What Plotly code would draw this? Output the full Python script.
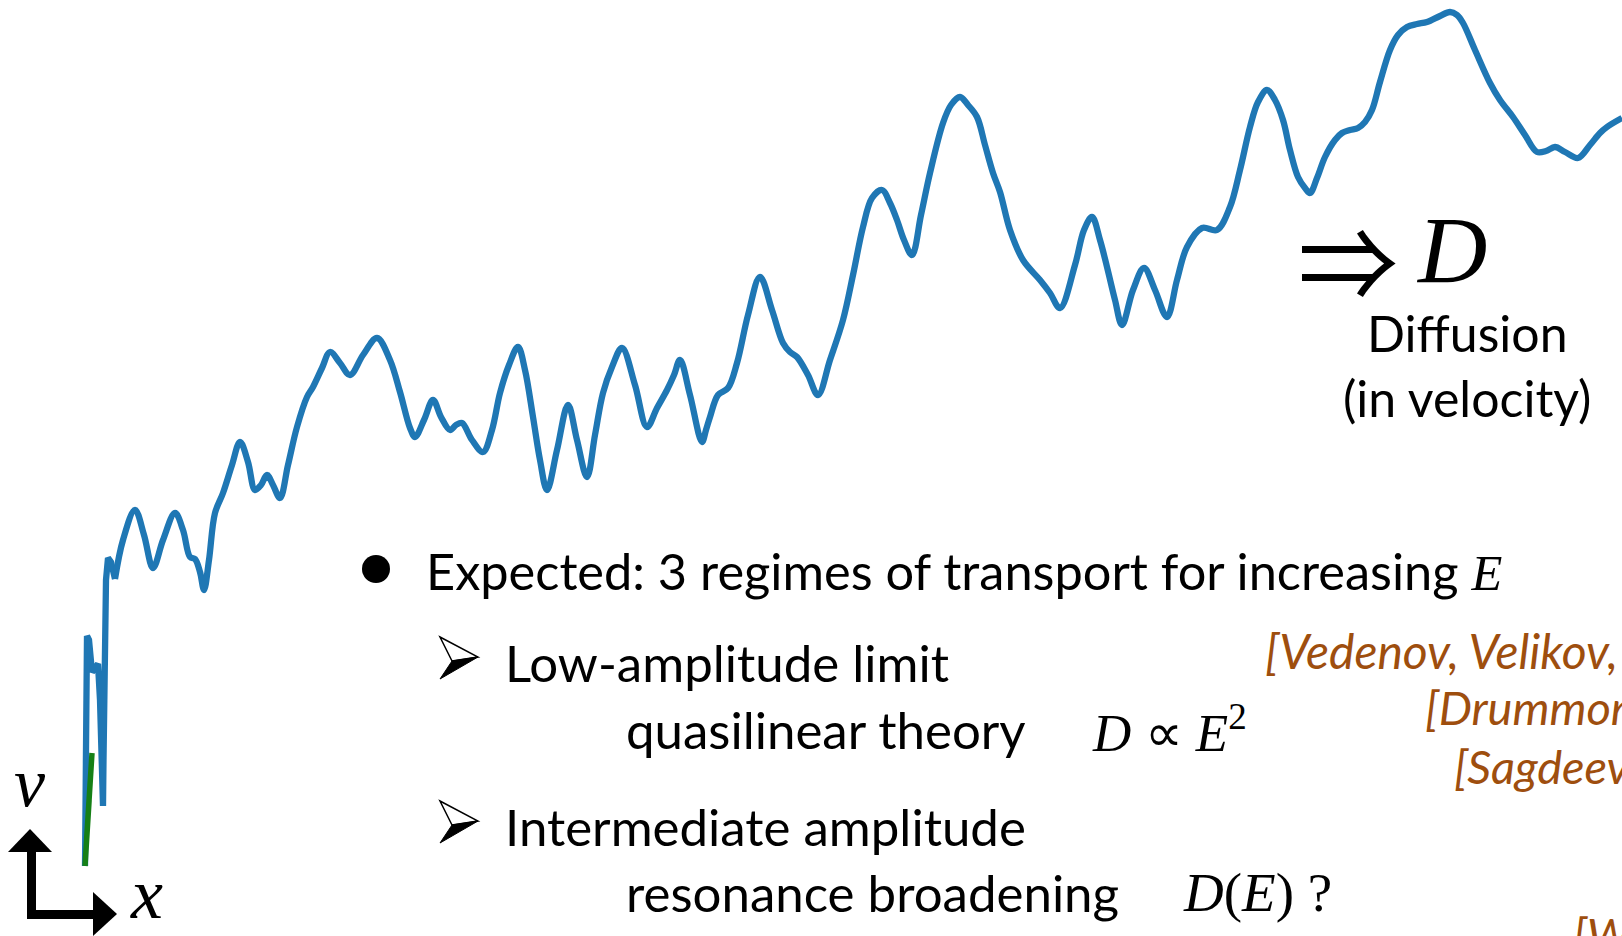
import plotly.graph_objects as go

# ---- data: sketched particle trajectory (x position, v position in picture units, v axis downward) ----
x_start = [85, 85.5, 86, 87, 89, 92, 95, 98, 100, 102, 103, 103.5, 104, 105, 106, 108, 111, 115]
v_start = [866, 760, 680, 636, 640, 672, 668, 664, 700, 760, 806, 760, 700, 630, 580, 558, 562, 579]

x_main = [115, 123, 135, 144, 153, 163, 175, 183, 190, 195, 200, 204, 209, 215, 223, 232, 240, 248, 255, 261,
          267, 273, 280, 288, 297, 307, 313, 322, 330, 340, 350, 363, 377, 390, 400, 410, 415, 424, 433, 441,
          450, 456, 462, 472, 483, 492, 500, 509, 518, 525, 533, 540, 547, 557, 568, 577, 587, 595, 603, 612,
          622, 635, 647, 657, 667, 674, 680, 690, 702, 706, 710, 718, 728, 737, 748, 760, 772, 783, 790, 797,
          808, 818, 830, 843, 853, 863, 872, 882, 890, 897, 904, 912, 921, 930, 943, 951, 960, 968, 977, 985,
          993, 1000, 1010, 1023, 1040, 1050, 1060, 1075, 1084, 1092, 1100, 1107, 1115, 1122, 1133, 1144, 1155,
          1167, 1177, 1187, 1202, 1217, 1230, 1240, 1250, 1258, 1267, 1275, 1283, 1290, 1298, 1305, 1310, 1317,
          1325, 1335, 1342, 1350, 1358, 1365, 1372, 1380, 1390, 1398, 1407, 1417, 1427, 1440, 1450, 1457, 1463,
          1475, 1490, 1500, 1513, 1525, 1537, 1546, 1555, 1565, 1578, 1590, 1600, 1607, 1622]
v_main = [579, 540, 510, 535, 568, 540, 513, 530, 557, 559, 572, 590, 560, 513, 493, 465, 442, 462, 490, 485,
          475, 485, 498, 465, 427, 397, 387, 368, 352, 363, 375, 355, 338, 360, 392, 428, 437, 420, 400, 417,
          430, 425, 423, 440, 452, 430, 393, 365, 347, 370, 417, 460, 490, 450, 405, 440, 477, 435, 393, 367,
          348, 385, 427, 408, 390, 375, 360, 395, 442, 430, 417, 395, 388, 363, 315, 277, 310, 343, 352, 357,
          375, 395, 360, 320, 275, 227, 198, 190, 203, 220, 240, 255, 215, 173, 123, 105, 97, 105, 117, 145,
          173, 192, 230, 260, 280, 293, 308, 265, 230, 217, 240, 267, 300, 325, 290, 268, 290,
          317, 280, 247, 228, 230, 207, 170, 127, 102, 90, 100, 120, 150, 177, 188, 193, 178,
          157, 140, 133, 130, 128, 122, 110, 82, 50, 35, 27, 24, 22, 16, 12, 15, 23,
          50, 83, 100, 117, 135, 152, 151, 147, 152, 158, 145, 133, 127, 118]

x_green = [85, 87, 89, 92]
v_green = [866, 830, 795, 753]

BLUE = "#1f77b4"
GREEN = "#168016"
ORANGE = "#9e4e0e"
SANS = "Lato"
SERIF = "Liberation Serif"

fig = go.Figure()
fig.add_trace(go.Scatter(x=x_start, y=v_start, mode="lines",
                         line=dict(color=BLUE, width=6.3), hoverinfo="skip"))
fig.add_trace(go.Scatter(x=x_main, y=v_main, mode="lines",
                         line=dict(color=BLUE, width=6.3, shape="spline", smoothing=1), hoverinfo="skip"))
fig.add_trace(go.Scatter(x=x_green, y=v_green, mode="lines",
                         line=dict(color=GREEN, width=5.5), hoverinfo="skip"))

shapes = [
    # axes glyph (L with arrow heads)
    dict(type="path", path="M 27,852 L 36,852 L 36,910 L 93,910 L 93,919 L 27,919 Z",
         fillcolor="black", line=dict(width=0)),
    dict(type="path", path="M 8,852 L 52,852 L 30,829 Z", fillcolor="black", line=dict(width=0)),
    dict(type="path", path="M 93,892 L 93,936 L 117,914 Z", fillcolor="black", line=dict(width=0)),
    # bullet
    dict(type="circle", x0=362, x1=390, y0=555, y1=583, fillcolor="black", line=dict(width=0)),
]
for dy in (0, 164):
    shapes.append(dict(type="path",
                       path=f"M 440,{637+dy} L 478,{657+dy} L 452,{661+dy} Z",
                       fillcolor="white", line=dict(color="black", width=1.5)))
    shapes.append(dict(type="path",
                       path=f"M 452,{661+dy} L 478,{657+dy} L 440,{679+dy} Z",
                       fillcolor="black", line=dict(color="black", width=1)))
for s in shapes:
    s.update(xref="x", yref="y", layer="above")


def ann(x, y, text, size, family=SANS, color="black", xanchor="left", yanchor="middle"):
    return dict(x=x, y=y, xref="x", yref="y", text=text, showarrow=False,
                xanchor=xanchor, yanchor=yanchor,
                font=dict(family=family, size=size, color=color))


annotations = [
    ann(30, 782, "<i>v</i>", 70, SERIF, xanchor="center"),
    ann(146, 936, "<i>x</i>", 72, SERIF, xanchor="center", yanchor="bottom"),
    ann(1348, 257, "⇒", 100, "Noto Sans CJK JP", xanchor="center"),
    ann(1451, 250, "<i>D</i>", 96, SERIF, xanchor="center"),
    ann(1467, 333, "Diffusion", 50, xanchor="center"),
    ann(1467, 398, "(in velocity)", 50, xanchor="center"),
    ann(424, 570, "Expected: 3 regimes of transport for increasing "
        f"<span style='font-family:{SERIF}'><i>E</i></span>", 50.5),
    ann(503, 662, "Low-amplitude limit", 51),
    ann(624, 729, "quasilinear theory", 51),
    ann(1090, 729, "<i>D</i> ∝ <i>E</i><sup>2</sup>", 53, SERIF),
    ann(503, 826, "Intermediate amplitude", 51),
    ann(624, 892, "resonance broadening", 51),
    ann(1181, 892, "<i>D</i>(<i>E</i>) ?", 55, SERIF),
    ann(1263, 650, "<i>[Vedenov, Velikov, Sagdeev 1961]</i>", 48, color=ORANGE),
    ann(1423, 707, "<i>[Drummond, Pines 1962]</i>", 47, color=ORANGE),
    ann(1452, 766, "<i>[Sagdeev, Galeev 1969]</i>", 47, color=ORANGE),
    ann(1571, 934, "<i>[Weinstock 1969]</i>", 47, color=ORANGE),
]

fig.update_layout(
    width=1622, height=936,
    margin=dict(l=0, r=0, t=0, b=0),
    paper_bgcolor="white", plot_bgcolor="white",
    showlegend=False,
    xaxis=dict(range=[0, 1622], visible=False, fixedrange=True),
    yaxis=dict(range=[936, 0], visible=False, fixedrange=True),
    shapes=shapes,
    annotations=annotations,
)

fig.write_html("out.html", config=dict(displayModeBar=False, staticPlot=True),
               post_script="document.body.style.margin='0';document.body.style.overflow='hidden';")
